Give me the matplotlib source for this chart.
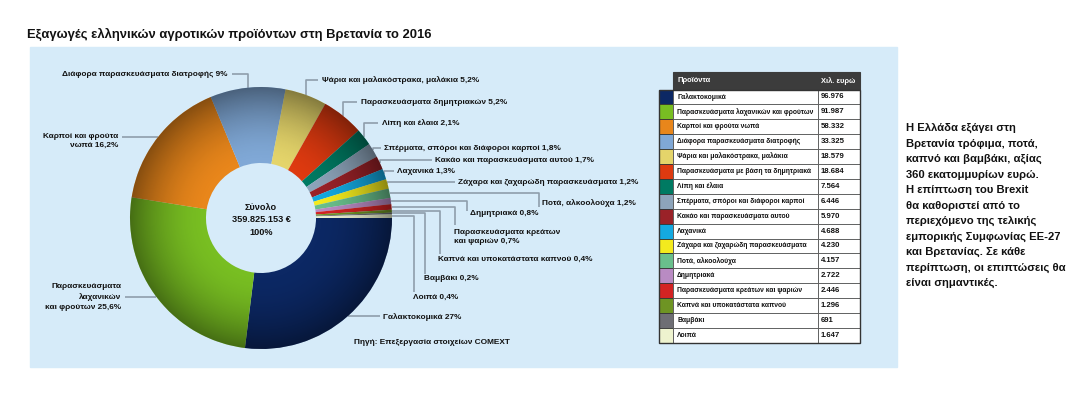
import numpy as np
import matplotlib
matplotlib.use('Agg')
import matplotlib.pyplot as plt
from matplotlib.patches import Rectangle, Wedge

# data (thousand euros, 2016)
products = ['Γαλακτοκομικά', 'Παρασκευάσματα λαχανικών και φρούτων', 'Καρποί και φρούτα νωπά',
            'Διάφορα παρασκευάσματα διατροφής', 'Ψάρια και μαλακόστρακα, μαλάκια',
            'Παρασκευάσματα με βάση τα δημητριακά', 'Λίπη και έλαια',
            'Σπέρματα, σπόροι και διάφοροι καρποί', 'Κακάο και παρασκευάσματα αυτού', 'Λαχανικά',
            'Ζάχαρα και ζαχαρώδη παρασκευάσματα', 'Ποτά, αλκοολούχα', 'Δημητριακά',
            'Παρασκευάσματα κρεάτων και ψαριών', 'Καπνά και υποκατάστατα καπνού', 'Βαμβάκι', 'Λοιπά']
values = [96976, 91987, 58332, 33325, 18579, 18684, 7564, 6446, 5970, 4688, 4230, 4157,
          2722, 2446, 1296, 691, 1647]
pie_labels = ['Γαλακτοκομικά 27%', 'Παρασκευάσματα\nλαχανικών\nκαι φρούτων 25,6%',
              'Καρποί και φρούτα\nνωπά 16,2%', 'Διάφορα παρασκευάσματα διατροφής 9%',
              'Ψάρια και μαλακόστρακα, μαλάκια 5,2%', 'Παρασκευάσματα δημητριακών 5,2%',
              'Λίπη και έλαια 2,1%', 'Σπέρματα, σπόροι και διάφοροι καρποί 1,8%',
              'Κακάο και παρασκευάσματα αυτού 1,7%', 'Λαχανικά 1,3%',
              'Ζάχαρα και ζαχαρώδη παρασκευάσματα 1,2%', 'Ποτά, αλκοολούχα 1,2%',
              'Δημητριακά 0,8%', 'Παρασκευάσματα κρεάτων\nκαι ψαριών 0,7%',
              'Καπνά και υποκατάστατα καπνού 0,4%', 'Βαμβάκι 0,2%', 'Λοιπά 0,4%']
colors = ['#0c2864', '#78be22', '#e8861b', '#80a8d6', '#e4d46a', '#de3a10', '#007a62',
          '#8da4ba', '#9a2228', '#14a9e1', '#f3ea1e', '#69bf8c', '#b98bc3', '#d32323',
          '#6e9423', '#6e6e74', '#eef3cf']
total_text = ['Σύνολο', '359.825.153 €', '100%']
title = 'Εξαγωγές ελληνικών αγροτικών προϊόντων στη Βρετανία το 2016'
source = 'Πηγή: Επεξεργασία στοιχείων COMEXT'
note = ['Η Ελλάδα εξάγει στη', 'Βρετανία τρόφιμα, ποτά,', 'καπνό και βαμβάκι, αξίας',
        '360 εκατομμυρίων ευρώ.', 'Η επίπτωση του Brexit', 'θα καθοριστεί από το',
        'περιεχόμενο της τελικής', 'εμπορικής Συμφωνίας ΕΕ-27', 'και Βρετανίας. Σε κάθε',
        'περίπτωση, οι επιπτώσεις θα', 'είναι σημαντικές.']

# label layout: text x, text y, align, leader route, elbow x, elbow y
lab_pos = [(383, 317, 'left', 'h', 380, 0), (121, 297, 'right', 'h', 125, 0),
           (118, 141, 'right', 'h', 122, 0), (228, 74, 'right', 'vh', 232, 74),
           (322, 80, 'left', 'vh', 318, 80), (361, 102, 'left', 'vh', 357, 102),
           (382, 123, 'left', 'vh', 378, 123), (384, 148, 'left', 'vh', 381, 148),
           (435, 160, 'left', 'vh', 432, 160), (397, 171, 'left', 'vh', 394, 171),
           (458, 182, 'left', 'vh', 455, 182), (542, 203, 'left', 'hv', 539, 207),
           (470, 213, 'left', 'hv', 467, 211), (454, 237, 'left', 'hv', 455, 225),
           (438, 259, 'left', 'hv', 440, 254), (424, 279, 'left', 'hv', 425, 274),
           (413, 297, 'left', 'hv', 414, 292)]

plt.rcParams['font.family'] = ['Liberation Sans', 'DejaVu Sans']

W, H = 1067, 394
fig = plt.figure(figsize=(W / 100, H / 100), dpi=100)
ax = fig.add_axes([0, 0, 1, 1])
ax.set_xlim(0, W)
ax.set_ylim(H, 0)
renderer = fig.canvas.get_renderer()


def fit_size(strings, target):
    # font size at which the widest string is target pixels wide
    ws = []
    for s in strings:
        t = fig.text(0, 0, s, fontsize=10, fontweight='bold')
        ws.append(t.get_window_extent(renderer).width)
        t.remove()
    return 10 * target / max(ws)


lab_fs = fit_size(['Ψάρια και μαλακόστρακα, μαλάκια 5,2%'], 156)
tab_fs = fit_size(products, 136)
note_fs = fit_size(note, 158)
title_fs = fit_size([title], 403)

bg = '#d6ebf9'
line_c = '#8e9eac'
ax.add_patch(Rectangle((30, 47), 867, 320, color=bg, zorder=0))

cx, cy, r = 261, 218, 131
wedges, _ = ax.pie(values, colors=colors, center=(cx, cy), radius=r, startangle=0,
                   counterclock=True, frame=True,
                   wedgeprops=dict(width=r * 0.58, linewidth=0))
for w in wedges:
    w.set_zorder(2)

# radial shading on the ring
gx = np.linspace(-1, 1, 400)
xx, yy = np.meshgrid(gx, gx)
rr = np.sqrt(xx ** 2 + yy ** 2)
shade = np.zeros((400, 400, 4))
shade[..., 3] = 0.42 * np.clip((rr - 0.42) / 0.58, 0, 1) ** 1.8
im = ax.imshow(shade, extent=(cx - r, cx + r, cy + r, cy - r), zorder=3, interpolation='bilinear')
im.set_clip_path(Wedge((cx, cy), r, 0, 360, width=r * 0.58, transform=ax.transData))

for k, t in enumerate(total_text):
    ax.text(cx, 207 + 12.5 * k, t, ha='center', va='center', fontsize=lab_fs * 1.1,
            fontweight='bold', color='#111111', zorder=5)

# labels and leader lines
for w, lab, (tx, ty, ha, route, ex, ey) in zip(wedges, pie_labels, lab_pos):
    th = np.deg2rad((w.theta1 + w.theta2) / 2)
    wx, wy = cx + r * np.cos(th), cy + r * np.sin(th)
    if route == 'h':
        xs, ys = [wx, ex], [wy, wy]
    elif route == 'vh':
        xs, ys = [wx, wx, ex], [wy, ey, ey]
    else:
        xs, ys = [wx, ex, ex], [wy, wy, ey]
    ax.plot(xs, ys, color=line_c, lw=1.2, zorder=1, solid_capstyle='butt')
    ax.text(tx, ty, lab, ha=ha, va='center', fontsize=lab_fs, fontweight='bold',
            color='#111111', linespacing=1.5, zorder=5)

ax.text(354, 342, source, ha='left', va='center', fontsize=lab_fs, fontweight='bold', color='#111111')
ax.text(27, 34, title, ha='left', va='center', fontsize=title_fs, fontweight='bold', color='#111111')

# table
tx0, tsw, tval, tx1 = 659, 673, 818, 860
top, head_h, row_h = 72, 17.5, 14.9
ax.add_patch(Rectangle((tsw, top), tx1 - tsw, head_h, facecolor='#3c3c3c', edgecolor='#3c3c3c', lw=0.8))
ax.text(tsw + 4, top + head_h / 2, 'Προϊόντα', color='white', fontsize=tab_fs * 1.1,
        fontweight='bold', va='center')
ax.text(tval + 3, top + head_h / 2, 'Χιλ. ευρώ', color='white', fontsize=tab_fs * 1.1,
        fontweight='bold', va='center')
y0 = top + head_h
for i, (p, v, c) in enumerate(zip(products, values, colors)):
    yr = y0 + i * row_h
    ax.add_patch(Rectangle((tx0, yr), tsw - tx0, row_h, facecolor=c, edgecolor='#333333', lw=0.6))
    ax.add_patch(Rectangle((tsw, yr), tval - tsw, row_h, facecolor='white', edgecolor='#555555', lw=0.6))
    ax.add_patch(Rectangle((tval, yr), tx1 - tval, row_h, facecolor='white', edgecolor='#555555', lw=0.6))
    ax.text(tsw + 4, yr + row_h / 2, p, fontsize=tab_fs, fontweight='bold', va='center', color='#111111')
    ax.text(tval + 3, yr + row_h / 2, f'{v:,}'.replace(',', '.'), fontsize=tab_fs * 1.15,
            fontweight='bold', va='center', color='#111111')
ax.add_patch(Rectangle((tx0, y0), tx1 - tx0, row_h * len(values), fill=False,
                       edgecolor='#333333', lw=1.0))

for k, t in enumerate(note):
    ax.text(906, 128 + 15.5 * k, t, ha='left', va='center', fontsize=note_fs,
            fontweight='bold', color='#111111')

ax.set_xlim(0, W)
ax.set_ylim(H, 0)
ax.set_aspect('auto')
ax.axis('off')
fig.savefig('out.png', dpi=100, facecolor='white')
